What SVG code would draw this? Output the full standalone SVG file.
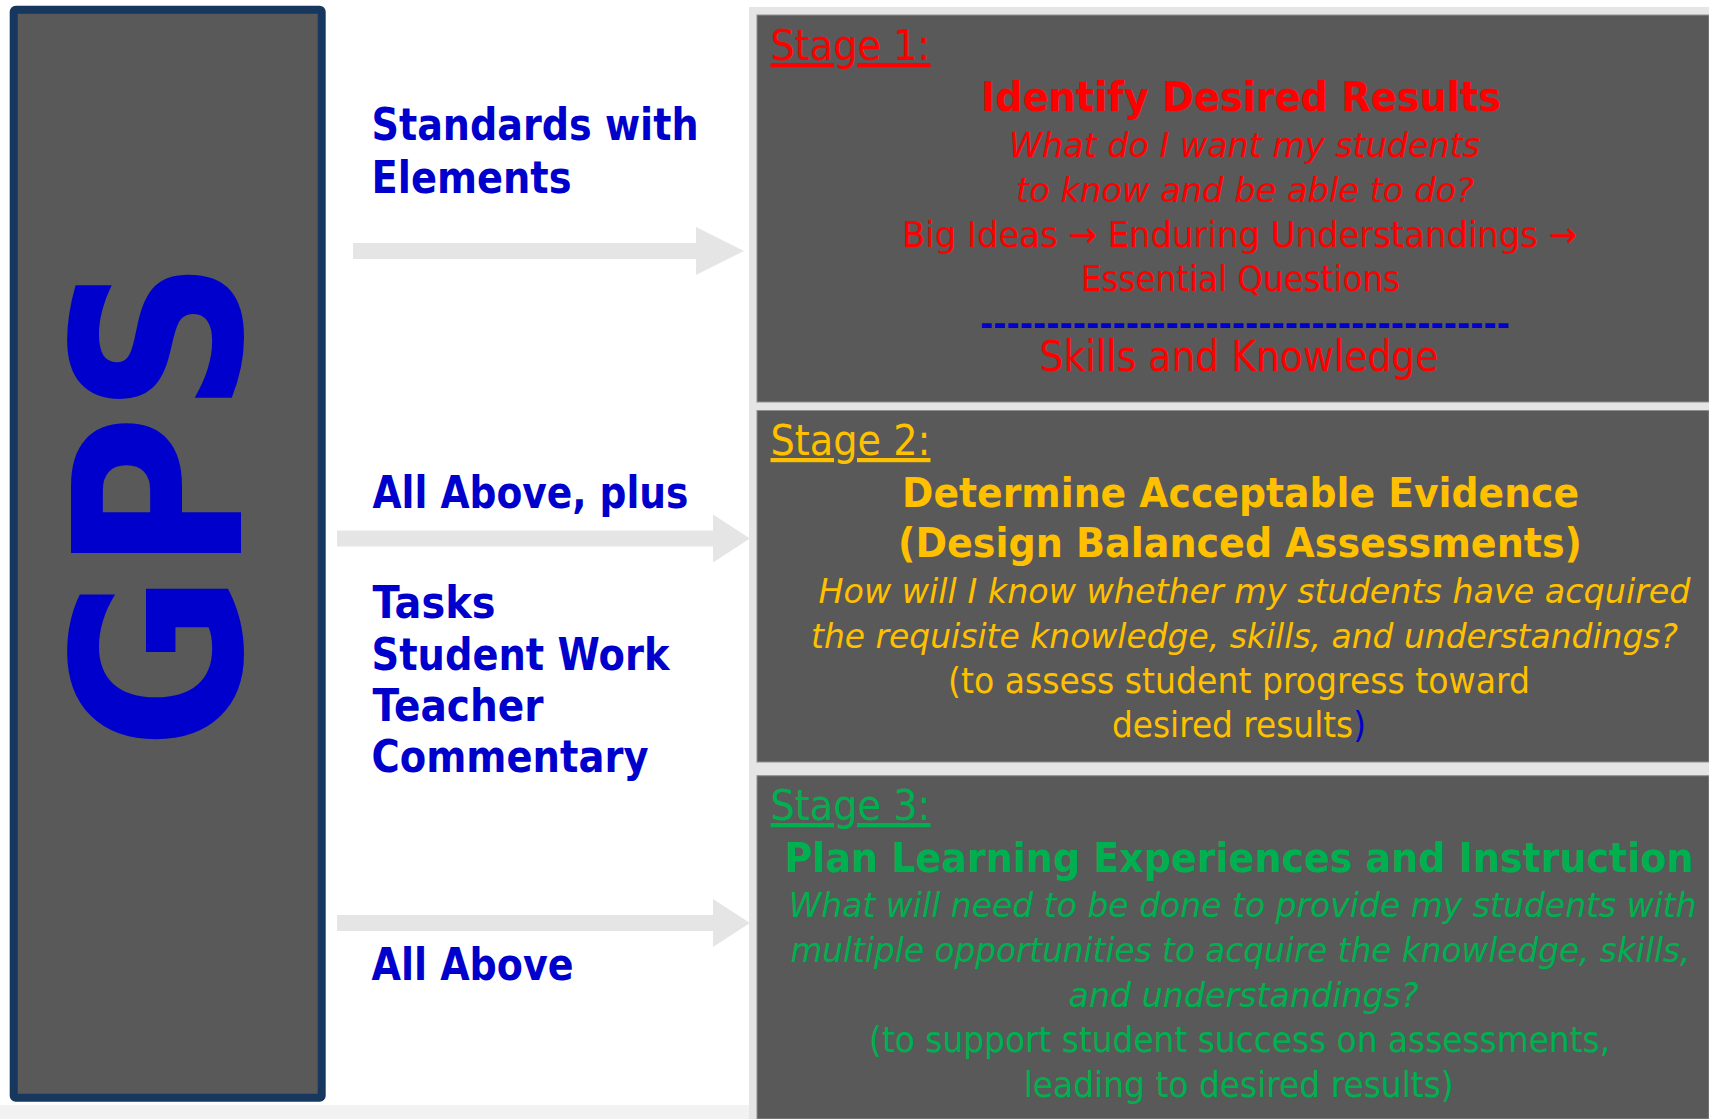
<svg xmlns="http://www.w3.org/2000/svg" width="1709" height="1119" viewBox="0 0 1709 1119">
  <style>
    text { font-family: "DejaVu Sans", Verdana, "Liberation Sans", sans-serif; }
    .lbl { font-size: 44px; font-weight: bold; fill: #0000CC; }
    .gps { font-size: 233px; font-weight: bold; fill: #0000CC; }
    .stage { font-size: 42px; text-decoration: underline; }
    .title { font-size: 41px; font-weight: bold; text-anchor: middle; }
    .q { font-size: 33.5px; font-style: italic; text-anchor: middle; }
    .body { font-size: 35.5px; text-anchor: middle; }
    .dash { font-size: 34px; font-weight: bold; text-anchor: middle; }
    .big { font-size: 42px; text-anchor: middle; }
    .red { fill: #FF0000; }
    .gold { fill: #FFC000; }
    .green { fill: #00B050; }
    .blue { fill: #0000CC; }
    .box { fill: #595959; stroke: #8F8F8F; stroke-width: 1; }
    .arrow { fill: #E5E5E5; }
  </style>

  <!-- page background and the light frame behind the stage panels -->
  <rect x="0" y="0" width="1709" height="1119" fill="#FFFFFF"/>
  <rect x="0" y="1105" width="749" height="14" fill="#F2F2F2"/>
  <rect x="749" y="7" width="960" height="1112" fill="#E5E5E5"/>

  <!-- GPS column -->
  <g id="gps">
    <rect x="13.7" y="9.7" width="308" height="1088" rx="2" fill="#595959" stroke="#17375E" stroke-width="8"/>
    <text class="gps" transform="translate(241 750) rotate(-90)" x="0" y="0" textLength="491" lengthAdjust="spacingAndGlyphs">GPS</text>
  </g>

  <!-- labels between the GPS column and the stages -->
  <g id="label-standards">
    <text class="lbl" x="371.5" y="140" textLength="327" lengthAdjust="spacingAndGlyphs">Standards with</text>
    <text class="lbl" x="371.5" y="192.7" textLength="200" lengthAdjust="spacingAndGlyphs">Elements</text>
  </g>
  <g id="label-all-above-plus">
    <text class="lbl" x="372.5" y="508.3" textLength="316" lengthAdjust="spacingAndGlyphs">All Above, plus</text>
  </g>
  <g id="label-tasks">
    <text class="lbl" x="372.5" y="617.7" textLength="123" lengthAdjust="spacingAndGlyphs">Tasks</text>
    <text class="lbl" x="371.5" y="670" textLength="298" lengthAdjust="spacingAndGlyphs">Student Work</text>
    <text class="lbl" x="372.5" y="721" textLength="171" lengthAdjust="spacingAndGlyphs">Teacher</text>
    <text class="lbl" x="371.5" y="771.7" textLength="277" lengthAdjust="spacingAndGlyphs">Commentary</text>
  </g>
  <g id="label-all-above">
    <text class="lbl" x="371.5" y="980" textLength="202" lengthAdjust="spacingAndGlyphs">All Above</text>
  </g>

  <!-- block arrows into the stages -->
  <g id="connectors">
    <polygon class="arrow" points="353,243 696,243 696,227 744,251 696,275 696,259 353,259"/>
    <polygon class="arrow" points="337,530.5 713,530.5 713,514.5 750,538.5 713,562.5 713,546.5 337,546.5"/>
    <polygon class="arrow" points="337,915 713,915 713,899 750,923 713,947 713,931 337,931"/>
  </g>

  <!-- Stage 1 -->
  <g id="stage1">
    <rect class="box" x="757" y="15" width="952" height="387"/>
    <text class="stage red" x="770.5" y="60" textLength="160" lengthAdjust="spacingAndGlyphs">Stage 1:</text>
    <text class="title red" x="1241" y="111" textLength="520" lengthAdjust="spacingAndGlyphs">Identify Desired Results</text>
    <text class="q red" x="1244.6" y="156.7" textLength="471" lengthAdjust="spacingAndGlyphs">What do I want my students</text>
    <text class="q red" x="1245" y="201.7" textLength="458" lengthAdjust="spacingAndGlyphs">to know and be able to do?</text>
    <text class="body red" x="1239.6" y="246.7" textLength="675" lengthAdjust="spacingAndGlyphs">Big Ideas → Enduring Understandings →</text>
    <text class="body red" x="1240.5" y="291" textLength="319" lengthAdjust="spacingAndGlyphs">Essential Questions</text>
    <text class="dash blue" x="1245" y="335" textLength="530" lengthAdjust="spacingAndGlyphs">----------------------------------------</text>
    <text class="big red" x="1239" y="370.7" textLength="399" lengthAdjust="spacingAndGlyphs">Skills and Knowledge</text>
  </g>

  <!-- Stage 2 -->
  <g id="stage2">
    <rect class="box" x="757" y="410.5" width="952" height="351.5"/>
    <text class="stage gold" x="770.5" y="455" textLength="160" lengthAdjust="spacingAndGlyphs">Stage 2:</text>
    <text class="title gold" x="1240.6" y="506.7" textLength="677" lengthAdjust="spacingAndGlyphs">Determine Acceptable Evidence</text>
    <text class="title gold" x="1240" y="556.7" textLength="684" lengthAdjust="spacingAndGlyphs">(Design Balanced Assessments)</text>
    <text class="q gold" x="1254.5" y="603.3" textLength="872" lengthAdjust="spacingAndGlyphs">How will I know whether my students have acquired</text>
    <text class="q gold" x="1244.5" y="648.3" textLength="867" lengthAdjust="spacingAndGlyphs">the requisite knowledge, skills, and understandings?</text>
    <text class="body gold" x="1239" y="693.3" textLength="582" lengthAdjust="spacingAndGlyphs">(to assess student progress toward</text>
    <text class="body gold" x="1239" y="737.3" textLength="254" lengthAdjust="spacingAndGlyphs">desired results<tspan class="blue">)</tspan></text>
  </g>

  <!-- Stage 3 -->
  <g id="stage3">
    <rect class="box" x="757" y="775.7" width="952" height="343.3"/>
    <text class="stage green" x="770.5" y="820" textLength="160" lengthAdjust="spacingAndGlyphs">Stage 3:</text>
    <text class="title green" x="1239" y="872.3" textLength="909" lengthAdjust="spacingAndGlyphs">Plan Learning Experiences and Instruction</text>
    <text class="q green" x="1242.7" y="916.7" textLength="908" lengthAdjust="spacingAndGlyphs">What will need to be done to provide my students with</text>
    <text class="q green" x="1240.5" y="961.7" textLength="900" lengthAdjust="spacingAndGlyphs">multiple opportunities to acquire the knowledge, skills,</text>
    <text class="q green" x="1243.6" y="1006.7" textLength="350" lengthAdjust="spacingAndGlyphs">and understandings?</text>
    <text class="body green" x="1239.6" y="1051.7" textLength="741" lengthAdjust="spacingAndGlyphs">(to support student success on assessments,</text>
    <text class="body green" x="1238.7" y="1096.7" textLength="430" lengthAdjust="spacingAndGlyphs">leading to desired results)</text>
  </g>
</svg>
